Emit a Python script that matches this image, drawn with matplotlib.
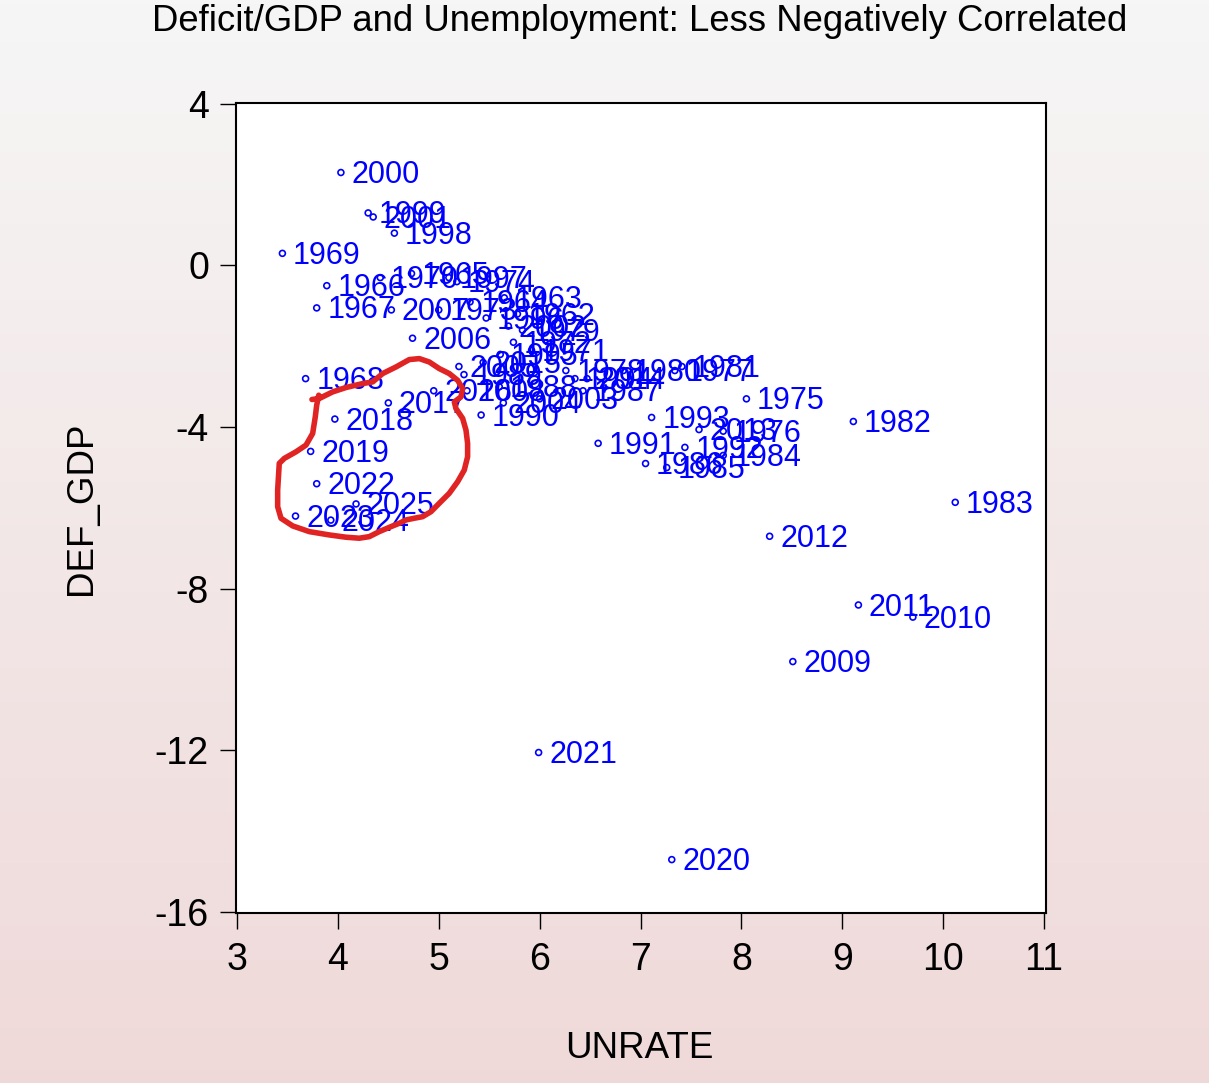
import matplotlib
matplotlib.use("Agg")
import matplotlib.pyplot as plt
import numpy as np

plt.rcParams["font.family"] = ["Liberation Sans", "DejaVu Sans"]
plt.rcParams["axes.unicode_minus"] = False

# fiscal years, FY-average unemployment rate, deficit as % of GDP
years = list(range(1962, 2026))
unrate = [
    5.78, 5.65, 5.31, 4.73, 3.89, 3.79, 3.68, 3.45, 4.42, 5.92,
    5.74, 5.00, 5.18, 8.05, 7.82, 7.34, 6.26, 5.83, 6.83, 7.41,
    9.11, 10.12, 7.82, 7.26, 7.05, 6.43, 5.60, 5.25, 5.42, 6.58,
    7.44, 7.11, 6.35, 5.61, 5.47, 5.10, 4.56, 4.30, 4.03, 4.35,
    5.69, 6.00, 5.64, 5.20, 4.74, 4.53, 5.28, 8.51, 9.70, 9.16,
    8.28, 7.58, 6.47, 5.44, 4.95, 4.50, 3.97, 3.73, 7.31, 5.99,
    3.79, 3.58, 3.93, 4.18,
]
def_gdp = [
    -1.2, -0.8, -0.9, -0.2, -0.5, -1.05, -2.8, 0.3, -0.3, -2.1,
    -1.9, -1.1, -0.4, -3.3, -4.1, -2.6, -2.6, -1.6, -2.6, -2.5,
    -3.86, -5.86, -4.7, -5.0, -4.9, -3.1, -3.0, -2.7, -3.7, -4.4,
    -4.5, -3.76, -2.8, -2.2, -1.3, -0.3, 0.8, 1.3, 2.3, 1.2,
    -1.5, -3.3, -3.4, -2.5, -1.8, -1.1, -3.1, -9.8, -8.7, -8.4,
    -6.7, -4.06, -2.8, -2.4, -3.1, -3.4, -3.8, -4.6, -14.7, -12.05,
    -5.4, -6.2, -6.3, -5.9,
]

# hand-drawn highlight loop around the recent years (UNRATE, DEF_GDP)
loop_x = [3.743, 3.816, 3.948, 4.080, 4.246, 4.345, 4.444, 4.576, 4.708, 4.807,
          4.906, 5.005, 5.104, 5.187, 5.237, 5.220, 5.154, 5.170, 5.237, 5.270,
          5.286, 5.286, 5.253, 5.187, 5.104, 5.005, 4.923, 4.840, 4.757, 4.675,
          4.609, 4.526, 4.410, 4.311, 4.212, 4.080, 3.915, 3.717, 3.552, 3.436,
          3.403, 3.403, 3.419, 3.469, 3.585, 3.684, 3.750, 3.776, 3.790, 3.810]
loop_y = [-3.316, -3.291, -3.128, -3.020, -2.921, -2.881, -2.674, -2.511, -2.328, -2.304,
          -2.388, -2.551, -2.674, -2.840, -3.044, -3.252, -3.375, -3.538, -3.785, -4.074,
          -4.402, -4.733, -5.062, -5.351, -5.637, -5.884, -6.091, -6.215, -6.254, -6.296,
          -6.378, -6.462, -6.585, -6.709, -6.748, -6.723, -6.667, -6.585, -6.444, -6.254,
          -5.968, -5.556, -4.896, -4.773, -4.610, -4.444, -4.156, -3.746, -3.457, -3.210]

fig = plt.figure(figsize=(12.09, 10.83), dpi=100)

# gradient background: light grey at the top to pale pink at the bottom
bg = fig.add_axes([0, 0, 1, 1], zorder=-10)
top = np.array([0.965, 0.965, 0.965])
bottom = np.array([0.94, 0.85, 0.85])
t = np.linspace(0, 1, 256)[:, None]
grad = (top * (1 - t) + bottom * t)[:, None, :]
bg.imshow(grad, aspect="auto", extent=[0, 1, 0, 1])
bg.axis("off")

ax = fig.add_axes([0.1952, 0.1570, 0.6700, 0.7479])
ax.set_facecolor("white")
ax.scatter(unrate, def_gdp, s=18, facecolors="none", edgecolors="#0000ff",
           linewidths=1.2, zorder=3)
for yr, x, y in zip(years, unrate, def_gdp):
    ax.annotate(str(yr), (x, y), xytext=(7.6, -7.6), textcoords="offset points",
                ha="left", va="baseline", fontsize=22, color="#0000ff", zorder=4)

ax.plot(loop_x, loop_y, color="#e02424", lw=4, solid_capstyle="round",
        solid_joinstyle="round", zorder=5)

ax.set_xlim(2.99, 11.02)
ax.set_ylim(-16.02, 4.02)
ax.set_xticks(range(3, 12))
ax.set_yticks([4, 0, -4, -8, -12, -16])
ax.tick_params(direction="out", length=11.5, width=1, labelsize=27)
ax.tick_params(axis="x", pad=9.5)
ax.tick_params(axis="y", pad=8)
for sp in ax.spines.values():
    sp.set_linewidth(1.5)

fig.text(0.5294, 0.9805, "Deficit/GDP and Unemployment: Less Negatively Correlated",
         ha="center", va="center", fontsize=26.3)
fig.text(0.529, 0.0314, "UNRATE", ha="center", va="center", fontsize=26.5)
fig.text(0.0678, 0.5305, "DEF_GDP", ha="center", va="center", fontsize=26.5,
         rotation=90)

fig.savefig("out.png", dpi=100)
